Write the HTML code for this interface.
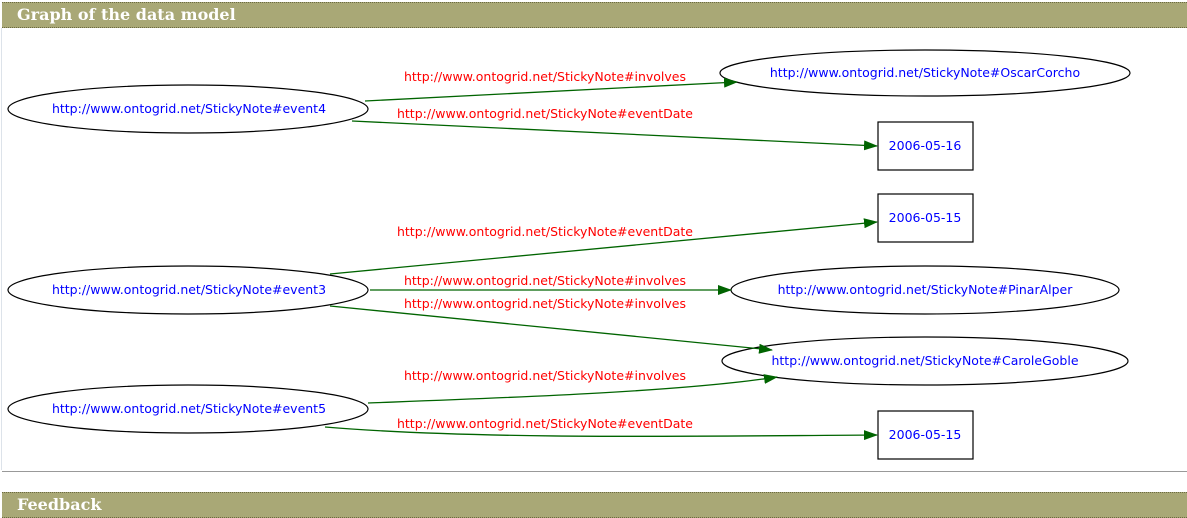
<!DOCTYPE html>
<html><head><meta charset="utf-8"><style>
body{margin:0;width:1187px;height:518px;background:#fff;position:relative;overflow:hidden;font-family:"DejaVu Sans","Liberation Sans",sans-serif}
.bar{position:absolute;left:2px;width:1185px;height:24px;background:#a9a876;border-top:1px dotted #6b6a40;border-bottom:1px dotted #6b6a40;color:#fff;font-family:"DejaVu Serif","Liberation Serif",serif;font-weight:bold;font-size:16px;line-height:24px;padding-left:15px;box-sizing:border-box}
.lb{position:absolute;left:1px;top:28px;width:1px;height:442px;background:#dde3ea}
.hr{position:absolute;left:2px;top:471px;width:1185px;height:1px;background:#999}
svg{position:absolute;left:0;top:0}
text{font-family:"DejaVu Sans","Liberation Sans",sans-serif;font-size:12.5px}
.n{fill:#0000ff}.l{fill:#ff0000}
</style></head><body>
<div class="bar" style="top:2px;height:26px">Graph of the data model</div>
<div class="lb"></div>
<div class="hr"></div>
<div class="bar" style="top:492px;height:26px">Feedback</div>
<svg width="1187" height="518">
<defs><marker id="a" markerWidth="14" markerHeight="10" refX="13" refY="5" orient="auto" markerUnits="userSpaceOnUse"><path d="M0,0 L14,5 L0,10z" fill="#006400"/></marker></defs>
<g fill="#fff" stroke="#000" stroke-width="1.2">
<ellipse cx="188" cy="109" rx="180" ry="24"/>
<ellipse cx="925" cy="73" rx="205" ry="23"/>
<ellipse cx="188" cy="290" rx="180" ry="24"/>
<ellipse cx="925" cy="290" rx="194" ry="24"/>
<ellipse cx="925" cy="361" rx="203" ry="24"/>
<ellipse cx="188" cy="409" rx="180" ry="24"/>
<rect x="878" y="122" width="95" height="48"/>
<rect x="878" y="194" width="95" height="48"/>
<rect x="878" y="411" width="95" height="48"/>
</g>
<g stroke="#006400" stroke-width="1.3" fill="none" marker-end="url(#a)">
<path d="M365,101 L737,82"/>
<path d="M352,121 L877,146"/>
<path d="M330,274 L877,222"/>
<path d="M370,290 L731,290"/>
<path d="M330,306 L772,350"/>
<path d="M368,403 C500,398 680,392 777,377"/>
<path d="M325,427 C480,440 700,436 877,435"/>
</g>
<g text-anchor="middle">
<text class="n" x="189" y="113">http://www.ontogrid.net/StickyNote#event4</text>
<text class="n" x="925" y="77">http://www.ontogrid.net/StickyNote#OscarCorcho</text>
<text class="n" x="189" y="294">http://www.ontogrid.net/StickyNote#event3</text>
<text class="n" x="925" y="294">http://www.ontogrid.net/StickyNote#PinarAlper</text>
<text class="n" x="925" y="365">http://www.ontogrid.net/StickyNote#CaroleGoble</text>
<text class="n" x="189" y="413">http://www.ontogrid.net/StickyNote#event5</text>
<text class="n" x="925" y="150">2006-05-16</text>
<text class="n" x="925" y="222">2006-05-15</text>
<text class="n" x="925" y="439">2006-05-15</text>
<text class="l" x="545" y="81">http://www.ontogrid.net/StickyNote#involves</text>
<text class="l" x="545" y="118">http://www.ontogrid.net/StickyNote#eventDate</text>
<text class="l" x="545" y="236">http://www.ontogrid.net/StickyNote#eventDate</text>
<text class="l" x="545" y="285">http://www.ontogrid.net/StickyNote#involves</text>
<text class="l" x="545" y="308">http://www.ontogrid.net/StickyNote#involves</text>
<text class="l" x="545" y="380">http://www.ontogrid.net/StickyNote#involves</text>
<text class="l" x="545" y="428">http://www.ontogrid.net/StickyNote#eventDate</text>
</g>
</svg>
</body></html>
